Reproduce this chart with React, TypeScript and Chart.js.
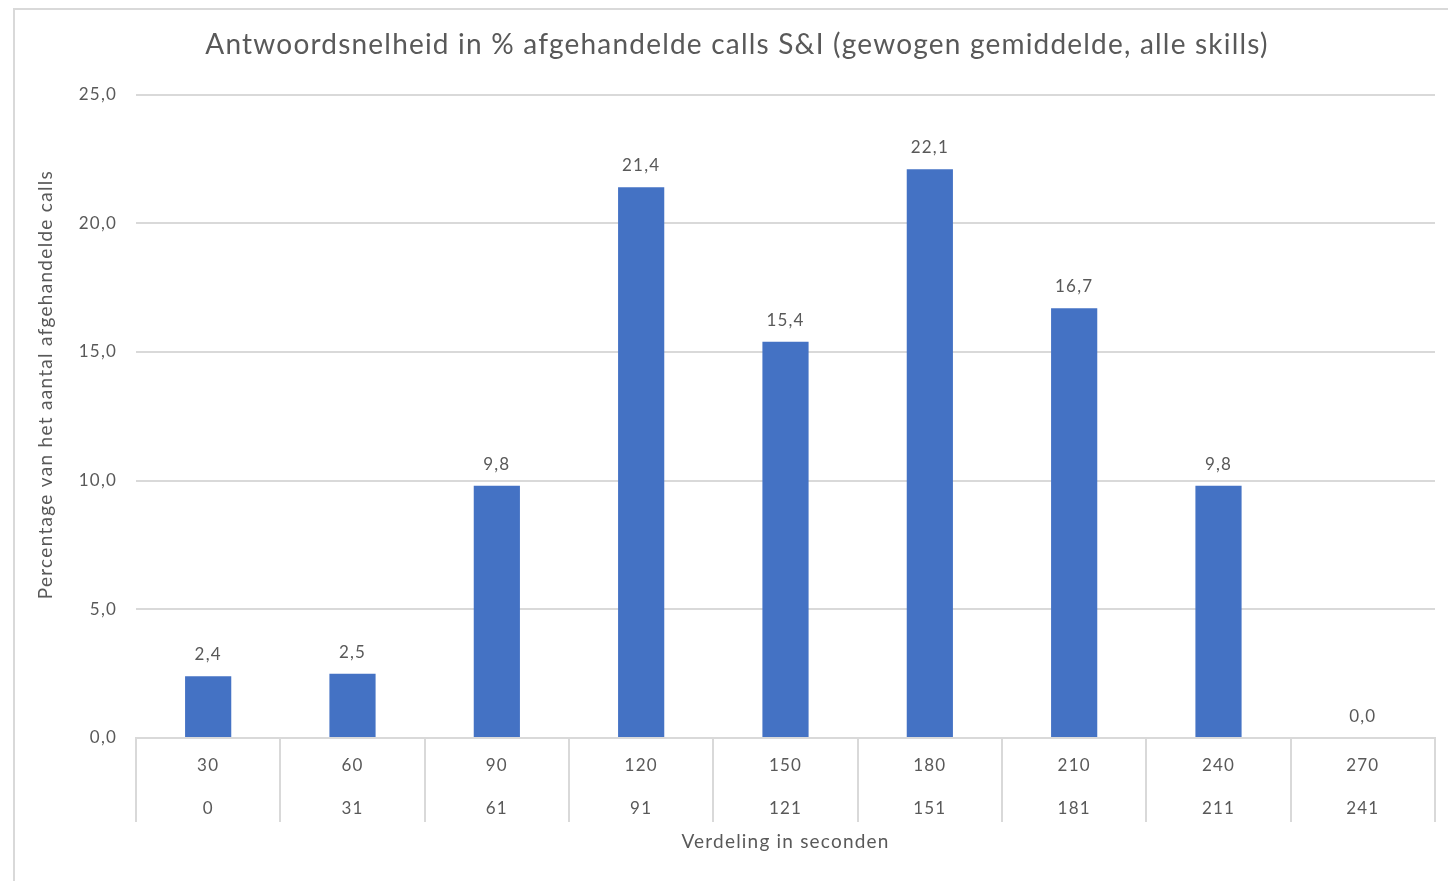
import React, { useEffect, useRef } from "react";
import { Chart, registerables } from "chart.js";

Chart.register(...registerables);

const titleText = "Antwoordsnelheid in % afgehandelde calls S&I (gewogen gemiddelde, alle skills)";
const yAxisTitle = "Percentage van het aantal afgehandelde calls";
const xAxisTitle = "Verdeling in seconden";
const categoriesUpper = ["30", "60", "90", "120", "150", "180", "210", "240", "270"];
const categoriesLower = ["0", "31", "61", "91", "121", "151", "181", "211", "241"];
const percentages = [2.4, 2.5, 9.8, 21.4, 15.4, 22.1, 16.7, 9.8, 0.0];
const yMin = 0;
const yMax = 25;
const yStep = 5;

const FONT = "Lato, 'Open Sans', sans-serif";
const TEXT = "#595959";
const GRID = "#d9d9d9";
const BAR = "#4472C4";
const SPACING = "1.2px";

const fmt = (v: number) => v.toFixed(1).replace(".", ",");

const spacingPlugin = {
  id: "spacing",
  beforeInit(chart: any) {
    chart.ctx.letterSpacing = SPACING;
  },
  beforeLayout(chart: any) {
    chart.ctx.letterSpacing = SPACING;
  },
  beforeDraw(chart: any) {
    chart.ctx.letterSpacing = SPACING;
  },
};

const dataLabelPlugin = {
  id: "dataLabels",
  afterDatasetsDraw(chart: any) {
    const ctx = chart.ctx;
    const meta = chart.getDatasetMeta(0);
    ctx.save();
    ctx.font = `17px ${FONT}`;
    ctx.fillStyle = TEXT;
    ctx.textAlign = "center";
    ctx.textBaseline = "alphabetic";
    meta.data.forEach((el: any, i: number) => {
      ctx.fillText(fmt(percentages[i]), el.x, el.y - 16);
    });
    ctx.restore();
  },
};

const yTitlePlugin = {
  id: "yTitle",
  afterDraw(chart: any) {
    const ctx = chart.ctx;
    const a = chart.chartArea;
    ctx.save();
    ctx.translate(a.left - 90, a.top + 290);
    ctx.rotate(-Math.PI / 2);
    ctx.font = `19px ${FONT}`;
    ctx.letterSpacing = "1.3px";
    ctx.fillStyle = TEXT;
    ctx.textAlign = "center";
    ctx.textBaseline = "middle";
    ctx.fillText(yAxisTitle, 0, 0);
    ctx.restore();
  },
};

export default function App() {
  const ref = useRef<HTMLCanvasElement | null>(null);

  useEffect(() => {
    if (!ref.current) return;
    const labels = categoriesUpper.map((u, i) => [u, categoriesLower[i]]);
    const chart = new Chart(ref.current, {
      type: "bar",
      data: {
        labels,
        datasets: [
          {
            data: percentages,
            backgroundColor: BAR,
            borderWidth: 0,
            categoryPercentage: 1,
            barPercentage: 0.32,
          },
        ],
      },
      options: {
        animation: false,
        responsive: false,
        devicePixelRatio: 1,
        layout: { padding: { left: 24, right: 13, top: 0, bottom: 28 } },
        plugins: {
          legend: { display: false },
          tooltip: { enabled: false },
          title: {
            display: true,
            text: titleText,
            color: TEXT,
            font: { family: FONT, size: 28, weight: "normal" },
            padding: { top: 18, bottom: 33 },
          },
        },
        scales: {
          x: {
            offset: true,
            afterFit: (scale: any) => {
              scale.height = 115;
            },
            grid: {
              offset: true,
              drawOnChartArea: false,
              drawTicks: true,
              tickLength: 84,
              color: GRID,
              lineWidth: 2,
            },
            border: { display: true, color: GRID, width: 2 },
            ticks: {
              color: TEXT,
              font: { family: FONT, size: 17, lineHeight: "43px" },
              padding: -77.5,
              autoSkip: false,
              maxRotation: 0,
            },
            title: {
              display: true,
              text: xAxisTitle,
              color: TEXT,
              font: { family: FONT, size: 19 },
              padding: { top: 2, bottom: 0 },
            },
          },
          y: {
            min: yMin,
            max: yMax,
            afterFit: (scale: any) => {
              scale.width = 97;
            },
            grid: { color: GRID, lineWidth: 2, drawTicks: false },
            border: { display: false },
            ticks: {
              stepSize: yStep,
              color: TEXT,
              font: { family: FONT, size: 17 },
              padding: 19,
              callback: (v: any) => fmt(Number(v)),
            },
          },
        },
      },
      plugins: [spacingPlugin, dataLabelPlugin, yTitlePlugin],
    });
    return () => chart.destroy();
  }, []);

  return (
    <div
      style={{
        position: "fixed",
        left: 13,
        top: 8,
        width: 1435,
        height: 873,
        borderTop: `2px solid ${GRID}`,
        borderLeft: `2px solid ${GRID}`,
        boxSizing: "border-box",
        background: "#fff",
      }}
    >
      <canvas ref={ref} width={1433} height={871} style={{ display: "block" }} />
    </div>
  );
}
